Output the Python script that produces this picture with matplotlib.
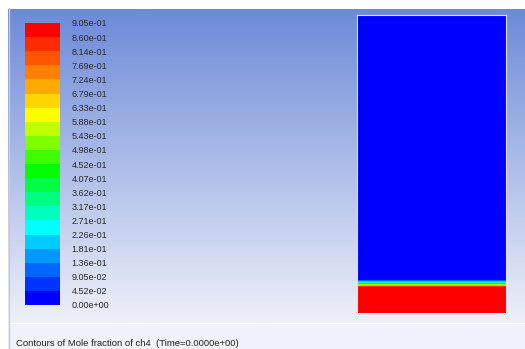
import numpy as np
import matplotlib.pyplot as plt
from matplotlib.colors import ListedColormap, BoundaryNorm

# contour levels of ch4 mole fraction and their printed labels
levels = [0.0, 0.0452, 0.0905, 0.136, 0.181, 0.226, 0.271, 0.317, 0.362, 0.407,
          0.452, 0.498, 0.543, 0.588, 0.633, 0.679, 0.724, 0.769, 0.814, 0.860, 0.905]
level_labels = ["0.00e+00", "4.52e-02", "9.05e-02", "1.36e-01", "1.81e-01", "2.26e-01",
                "2.71e-01", "3.17e-01", "3.62e-01", "4.07e-01", "4.52e-01", "4.98e-01",
                "5.43e-01", "5.88e-01", "6.33e-01", "6.79e-01", "7.24e-01", "7.69e-01",
                "8.14e-01", "8.60e-01", "9.05e-01"]

# mole fraction along the column height (0 = bottom, 1 = top)
profile_height = [0.0, 0.087, 0.095, 0.104, 0.112, 1.0]
profile_value = [0.905, 0.905, 0.60, 0.25, 0.0, 0.0]

caption = "Contours of Mole fraction of ch4  (Time=0.0000e+00)"

# band colours, low to high
band_colors = ["#0000ff", "#0033ff", "#0066ff", "#0099ff", "#00ccff", "#00ffff",
               "#00ffbf", "#00ff80", "#00ff40", "#00ff00", "#40ff00", "#80ff00",
               "#bfff00", "#ffff00", "#ffd500", "#ffaa00", "#ff8000", "#ff5500",
               "#ff2b00", "#ff0000"]
cmap = ListedColormap(band_colors)
norm = BoundaryNorm(levels, cmap.N)

W, H = 525, 349
fig = plt.figure(figsize=(W / 100, H / 100), dpi=100)
plt.rcParams['font.family'] = ['Liberation Sans', 'DejaVu Sans']


def px(x0, y0, x1, y1):
    # pixel box (top-left origin) -> figure fraction
    return [x0 / W, 1 - y1 / H, (x1 - x0) / W, (y1 - y0) / H]


# background: blue-to-white gradient + caption strip
bg = fig.add_axes([0, 0, 1, 1], zorder=-1)
bg.set_xlim(0, W)
bg.set_ylim(H, 0)
bg.axis('off')
top = np.array([108, 138, 216]) / 255
bot = np.array([238, 240, 249]) / 255
t = np.linspace(0, 1, 300)[:, None, None]
grad = top * (1 - t) + bot * t
bg.imshow(np.repeat(grad, 2, axis=1), extent=[8, W, 322, 9], aspect='auto',
          interpolation='bilinear')
bg.add_patch(plt.Rectangle((8, 322), W - 8, H - 322, color='#f1f2f9', lw=0))
bg.plot([8, W], [322.5, 322.5], color='#fafbff', lw=1)
bg.plot([8.5, 8.5], [9, H], color='#c8cad4', lw=1)
bg.text(16, 343, caption, fontsize=6.8, color='#222222', va='center', ha='left')

# contour field of the column
ax = fig.add_axes(px(357, 15, 506, 313))
xs = [0.0, 1.0]
Z = np.array([[v, v] for v in profile_value])
cs = ax.contourf(xs, profile_height, Z, levels=levels, cmap=cmap, norm=norm,
                 antialiased=False)
ax.set_xlim(0, 1)
ax.set_ylim(0, 1)
ax.set_xticks([])
ax.set_yticks([])
for s in ax.spines.values():
    s.set_color('#dde2f5')
    s.set_linewidth(0.8)

# colour legend
cax = fig.add_axes(px(25, 23, 60, 305))
cb = fig.colorbar(cs, cax=cax)
cb.outline.set_visible(False)
cb.set_ticks(levels)
cb.set_ticklabels(level_labels)
cax.tick_params(length=0, pad=8.5, labelsize=6.5, labelcolor='#2a2a2a')

fig.savefig("out.png", dpi=100)
